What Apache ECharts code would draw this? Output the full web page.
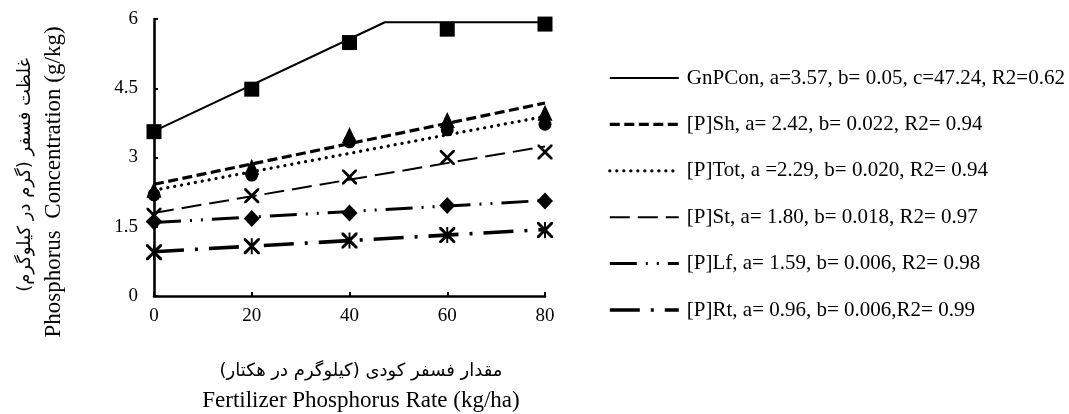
<!DOCTYPE html>
<html><head><meta charset="utf-8">
<script src="https://cdn.jsdelivr.net/npm/echarts@6/dist/echarts.min.js"></script>
<style>html,body{margin:0;padding:0;background:#fff}#c{width:1069px;height:414px}</style>
</head><body><div id="c"></div>
<script>
// ---- data ----
const rates = [0, 20, 40, 60, 80];
const gnPCon = [3.56, 4.48, 5.49, 5.78, 5.89];
const pSh = [2.30, 2.80, 3.49, 3.81, 3.97];
const pTot = [2.19, 2.62, 3.34, 3.60, 3.72];
const pSt = [1.75, 2.17, 2.58, 3.00, 3.12];
const pLf = [1.61, 1.68, 1.80, 1.96, 2.06];
const pRt = [0.95, 1.08, 1.20, 1.32, 1.43];
// fitted curves (break points)
const fitX = [0, 80];
const gnFitX = [0, 47.24, 80];
const gnFitY = [3.57, 5.93, 5.93];
const shFitY = [2.42, 4.18];
const totFitY = [2.29, 3.89];
const stFitY = [1.80, 3.24];
const lfFitY = [1.59, 2.07];
const rtFitY = [0.96, 1.44];
const legendNames = [
  'GnPCon, a=3.57, b= 0.05, c=47.24, R2=0.62',
  '[P]Sh, a= 2.42, b= 0.022, R2= 0.94',
  '[P]Tot, a =2.29, b= 0.020, R2= 0.94',
  '[P]St, a= 1.80, b= 0.018, R2= 0.97',
  '[P]Lf, a= 1.59, b= 0.006, R2= 0.98',
  '[P]Rt, a= 0.96, b= 0.006,R2= 0.99'
];
const yTitleFa = 'غلظت فسفر (گرم در کیلوگرم)\u200F';
const yTitleEn = 'Phosphorus  Concentration (g/kg)';
const xTitleFa = 'مقدار فسفر کودی (کیلوگرم در هکتار)\u200F';
const xTitleEn = 'Fertilizer Phosphorus Rate (kg/ha)';

// ---- styles ----
const serif = '"Liberation Serif", "Times New Roman", serif';
const faFont = '"DejaVu Sans", "Liberation Serif", serif';
const lineStyles = [
  {color: '#000', width: 2, type: 'solid'},
  {color: '#000', width: 3.2, type: [10, 4.5]},
  {color: '#000', width: 3.3, type: [0.01, 7], cap: 'round'},
  {color: '#000', width: 2, type: [20, 8]},
  {color: '#000', width: 3, type: [27, 9, 2, 9, 2, 9]},
  {color: '#000', width: 3.6, type: [30, 11, 3, 11]}
];
const X_PATH = 'path://M0,0 L2.6,0 L10,7.4 L17.4,0 L20,0 L20,2.6 L12.6,10 L20,17.4 L20,20 L17.4,20 L10,12.6 L2.6,20 L0,20 L0,17.4 L7.4,10 L0,2.6 Z';
const STAR_PATH = X_PATH + ' M8.8,0 L11.2,0 L11.2,20 L8.8,20 Z';

const fitData = [
  gnFitX.map((x, i) => [x, gnFitY[i]]),
  fitX.map((x, i) => [x, shFitY[i]]),
  fitX.map((x, i) => [x, totFitY[i]]),
  fitX.map((x, i) => [x, stFitY[i]]),
  fitX.map((x, i) => [x, lfFitY[i]]),
  fitX.map((x, i) => [x, rtFitY[i]])
];
const obsData = [gnPCon, pSh, pTot, pSt, pLf, pRt];
const symbols = [
  {symbol: 'rect', size: 15},
  {symbol: 'triangle', size: [15, 16]},
  {symbol: 'circle', size: 13},
  {symbol: X_PATH, size: 15},
  {symbol: 'diamond', size: [16, 17]},
  {symbol: STAR_PATH, size: 16}
];

const series = [];
fitData.forEach((d, k) => {
  series.push({
    type: 'line', name: legendNames[k], data: d, symbol: 'none',
    lineStyle: lineStyles[k], z: 3, silent: true, animation: false
  });
});
obsData.forEach((vals, k) => {
  series.push({
    type: 'scatter', name: 'obs' + k,
    data: rates.map((x, i) => [x, vals[i]]),
    symbol: symbols[k].symbol, symbolSize: symbols[k].size,
    itemStyle: {color: '#000', opacity: 1}, z: 4, silent: true, animation: false
  });
});

const chart = echarts.init(document.getElementById('c'), null, {renderer: 'canvas'});
chart.setOption({
  backgroundColor: '#fff',
  animation: false,
  grid: {left: 154, right: 524, top: 19, bottom: 118, containLabel: false},
  xAxis: {
    type: 'value', min: 0, max: 80, interval: 20,
    axisLine: {show: true, lineStyle: {color: '#000', width: 2.6}},
    axisTick: {show: true, inside: true, length: 4, lineStyle: {color: '#000', width: 2}},
    axisLabel: {color: '#000', fontFamily: serif, fontSize: 19, margin: 11},
    splitLine: {show: false}
  },
  yAxis: {
    type: 'value', min: 0, max: 6, interval: 1.5,
    axisLine: {show: true, lineStyle: {color: '#000', width: 2.6}},
    axisTick: {show: true, inside: true, length: 4, lineStyle: {color: '#000', width: 2}},
    axisLabel: {color: '#000', fontFamily: serif, fontSize: 19, margin: 16},
    splitLine: {show: false}
  },
  legend: {
    orient: 'vertical', left: 608, top: 67, padding: 0,
    itemWidth: 69, itemHeight: 22, itemGap: 24.4,
    itemStyle: {color: 'rgba(0,0,0,0)', borderWidth: 0},
    textStyle: {color: '#000', fontFamily: serif, fontSize: 21, lineHeight: 22, padding: [0, 0, 0, 3]},
    data: legendNames.map((n, k) => ({name: n, lineStyle: lineStyles[k], itemStyle: {color: 'rgba(0,0,0,0)', borderWidth: 0}})),
    selectedMode: false
  },
  graphic: [
    {type: 'text', x: 25, y: 175, rotation: Math.PI / 2,
     style: {text: yTitleFa, font: '18px ' + faFont, fill: '#000', textAlign: 'center', textVerticalAlign: 'middle'}},
    {type: 'text', x: 54, y: 182, rotation: Math.PI / 2,
     style: {text: yTitleEn, font: '23px ' + serif, fill: '#000', textAlign: 'center', textVerticalAlign: 'middle'}},
    {type: 'text', x: 361, y: 371,
     style: {text: xTitleFa, font: '18px ' + faFont, fill: '#000', textAlign: 'center', textVerticalAlign: 'middle'}},
    {type: 'text', x: 361, y: 401,
     style: {text: xTitleEn, font: '23px ' + serif, fill: '#000', textAlign: 'center', textVerticalAlign: 'middle'}}
  ],
  series: series
});
</script>
</body></html>
